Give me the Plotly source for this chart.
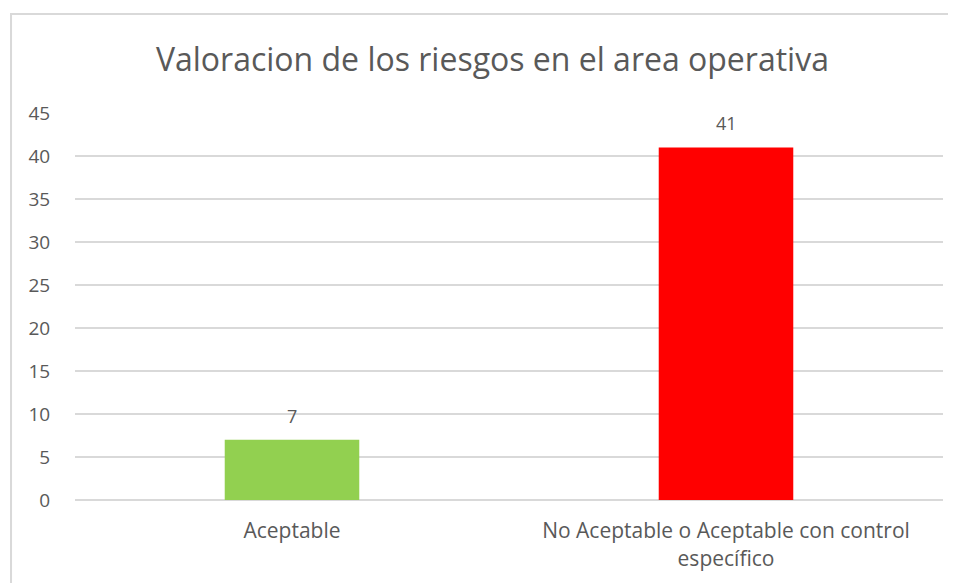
import plotly.graph_objects as go

categories = ["Aceptable", "No Aceptable o Aceptable con control específico"]
tick_labels = ["Aceptable", "No Aceptable o Aceptable con control<br>específico"]
values = [7, 41]
bar_colors = ["#92D050", "#FF0000"]
y_ticks = [0, 5, 10, 15, 20, 25, 30, 35, 40, 45]

_FONT = "Open Sans, sans-serif"
TX = "#595959"
GRID = "#D9D9D9"

# page body keeps its default 8px margin, so the figure is sized to fit
fig = go.Figure(go.Bar(
    x=categories,
    y=values,
    marker=dict(color=bar_colors, line_width=0),
    width=0.31,
    hoverinfo="x+y",
))

# value labels sit a little above each bar
for cat, val in zip(categories, values):
    fig.add_annotation(
        x=cat, y=val, text=str(val),
        showarrow=False, yanchor="bottom", yshift=10,
        font=dict(family=_FONT, color=TX, size=18),
    )

fig.update_layout(
    width=948, height=575,
    paper_bgcolor="white",
    plot_bgcolor="white",
    font=dict(family=_FONT, color=TX, size=18),
    title=dict(
        text="Valoracion de los riesgos en el area operativa",
        x=0.511, xanchor="center",
        y=0.91, yanchor="middle",
        font=dict(family=_FONT, color=TX, size=32),
    ),
    margin=dict(l=67, r=13, t=105, b=83),
    showlegend=False,
    xaxis=dict(
        tickmode="array",
        tickvals=categories,
        ticktext=tick_labels,
        showgrid=False,
        showline=False,
        zeroline=False,
        ticks="outside",
        ticklen=12,
        tickcolor="rgba(0,0,0,0)",
        tickfont=dict(color=TX, size=21),
    ),
    yaxis=dict(
        range=[0, 45],
        tickvals=y_ticks,
        gridcolor=GRID,
        gridwidth=1.5,
        zeroline=True,
        zerolinecolor=GRID,
        zerolinewidth=1.5,
        showline=False,
        ticks="outside",
        ticklen=20,
        tickcolor="rgba(0,0,0,0)",
        tickfont=dict(color=TX, size=19),
    ),
    shapes=[dict(
        type="rect", xref="paper", yref="paper",
        x0=-0.0737, x1=1.5, y0=-1.0, y1=1.2558,
        line=dict(color="#D9D9D9", width=2),
        fillcolor="rgba(0,0,0,0)",
        layer="below",
    )],
)

fig.write_html("out.html")
